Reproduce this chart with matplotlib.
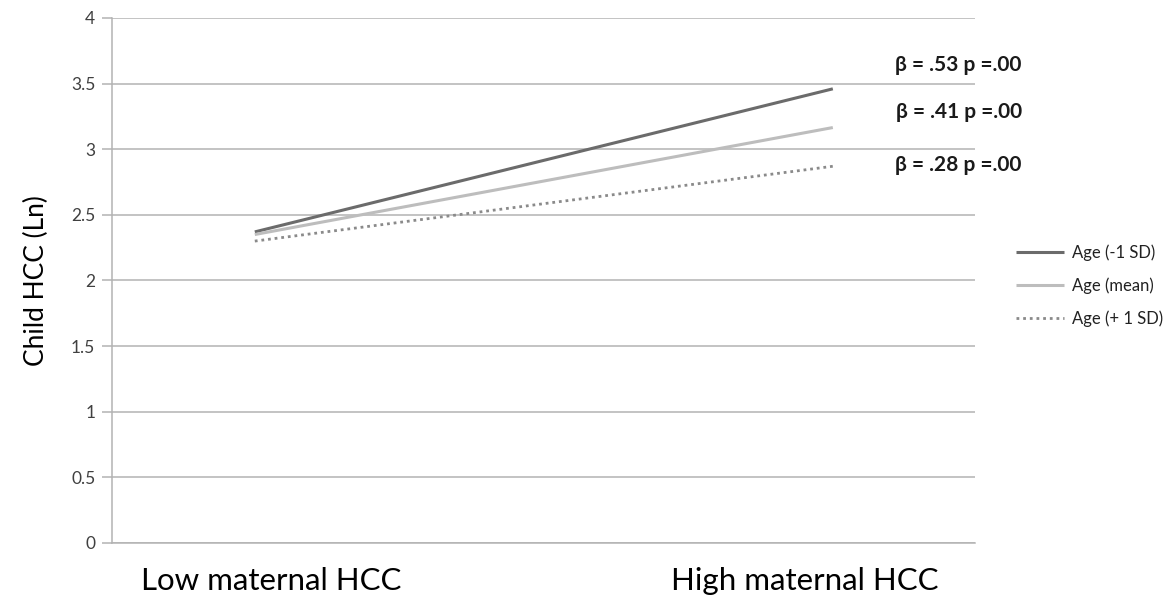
import matplotlib
matplotlib.use("Agg")
import matplotlib.pyplot as plt

# data
categories = ["Low maternal HCC", "High maternal HCC"]
series_names = ["Age (-1 SD)", "Age (mean)", "Age (+ 1 SD)"]
age_minus = [2.37, 3.46]
age_mean = [2.35, 3.165]
age_plus = [2.30, 2.87]
beta_labels = ["\u03b2 = .53 p =.00", "\u03b2 = .41 p =.00", "\u03b2 = .28 p =.00"]
beta_y = [3.64, 3.28, 2.88]
y_ticks = [0, 0.5, 1, 1.5, 2, 2.5, 3, 3.5, 4]
y_tick_labels = ["0", "0.5", "1", "1.5", "2", "2.5", "3", "3.5", "4"]

plt.rcParams["font.family"] = ["Lato", "DejaVu Sans"]

fig = plt.figure(figsize=(11.67, 5.98), dpi=100)
ax = fig.add_axes([0.096, 0.092, 0.7395, 0.878])

x = [0, 1]
ax.plot(x, age_minus, color="#6b6b6b", lw=2.2, label=series_names[0], solid_capstyle="butt")
ax.plot(x, age_mean, color="#bdbdbd", lw=2.2, label=series_names[1], solid_capstyle="butt")
ax.plot(x, age_plus, color="#8a8a8a", lw=2.0, ls=(0, (1, 1.4)), label=series_names[2])

ax.set_xlim(-0.247, 1.246)
ax.set_ylim(0, 4)
ax.set_yticks(y_ticks)
ax.set_yticklabels(y_tick_labels, fontsize=12.5, color="#404040")
ax.grid(axis="y", color="#b3b3b3", lw=1.1)
ax.set_axisbelow(True)

# category labels
ax.set_xticks([0.029, 0.952])
ax.set_xticklabels(categories, fontsize=22.5, color="black")
ax.tick_params(axis="x", length=0, pad=17)
ax.tick_params(axis="y", length=7, color="#b3b3b3", width=1.1, pad=5)

for s in ["top", "right"]:
    ax.spines[s].set_visible(False)
ax.spines["left"].set_color("#b3b3b3")
ax.spines["bottom"].set_color("#b3b3b3")
ax.spines["left"].set_linewidth(1.1)
ax.spines["bottom"].set_linewidth(1.1)

ax.set_ylabel("Child HCC (Ln)", fontsize=19, labelpad=16)

for lab, yy in zip(beta_labels, beta_y):
    ax.text(1.327, yy, lab, ha="right", va="center", fontsize=15,
            fontweight="bold", color="#1a1a1a", clip_on=False)

leg = ax.legend(loc="center left", bbox_to_anchor=(1.03, 0.49), frameon=False,
                fontsize=12, handlelength=2.9, handletextpad=0.45, labelspacing=1.0)
for t in leg.get_texts():
    t.set_color("#222222")

fig.savefig("out.png", dpi=100)
